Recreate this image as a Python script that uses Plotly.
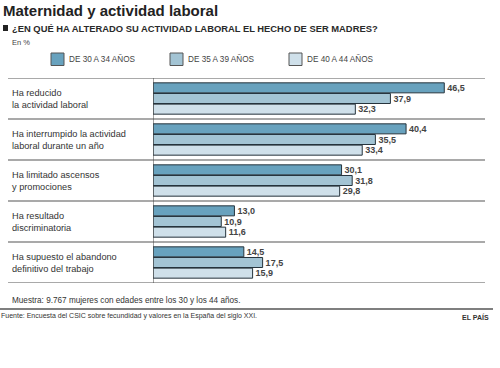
import plotly.graph_objects as go

categories = [
    "Ha reducido<br>la actividad laboral",
    "Ha interrumpido la actividad<br>laboral durante un año",
    "Ha limitado ascensos<br>y promociones",
    "Ha resultado<br>discriminatoria",
    "Ha supuesto el abandono<br>definitivo del trabajo",
]
series_names = ["DE 30 A 34 AÑOS", "DE 35 A 39 AÑOS", "DE 40 A 44 AÑOS"]
values_30_34 = [46.5, 40.4, 30.1, 13.0, 14.5]
values_35_39 = [37.9, 35.5, 31.8, 10.9, 17.5]
values_40_44 = [32.3, 33.4, 29.8, 11.6, 15.9]
series_values = [values_30_34, values_35_39, values_40_44]
colors = ["#68a2be", "#a3c4d4", "#cfe0ea"]

W, H = 500, 368
L, R, T, B = 153, 485, 78, 283
PW, PH = R - L, B - T


def px(x):
    return (x - L) / PW


def py(y):
    return (B - y) / PH


FONT = "Liberation Sans, Arial, sans-serif"
ypos = list(range(len(categories)))

fig = go.Figure()
for name, vals, col in zip(series_names, series_values, colors):
    fig.add_trace(go.Bar(
        y=ypos, x=vals, name=name, orientation="h",
        marker=dict(color=col, line=dict(color="#26343d", width=1)),
        text=vals, texttemplate="<b>%{x:.1f}</b>", textposition="outside",
        textfont=dict(family=FONT, size=9, color="#444444"),
        cliponaxis=False, showlegend=False, hoverinfo="skip",
    ))

fig.update_layout(
    width=W, height=H,
    margin=dict(l=L, r=W - R, t=T, b=H - B),
    paper_bgcolor="white", plot_bgcolor="white",
    barmode="group", bargap=0.22, bargroupgap=0.06,
    separators=",.",
    xaxis=dict(range=[0, 53], visible=False, fixedrange=True),
    yaxis=dict(range=[len(categories) - 0.5, -0.5], visible=False, fixedrange=True),
    showlegend=False,
)

shapes = []
# horizontal rules
for i in range(len(categories) + 1):
    shapes.append(dict(type="line", xref="paper", yref="y", x0=px(8), x1=1,
                       y0=i - 0.5, y1=i - 0.5, line=dict(color="#555555", width=1.2)))
# vertical axis line
shapes.append(dict(type="line", xref="x", yref="paper", x0=0, x1=0, y0=0, y1=1,
                   line=dict(color="#444444", width=1)))
# footer rule
shapes.append(dict(type="line", xref="paper", yref="paper", x0=px(0), x1=px(493),
                   y0=py(309), y1=py(309), line=dict(color="#555555", width=1.5)))
# subtitle bullet
shapes.append(dict(type="rect", xref="paper", yref="paper", x0=px(3), x1=px(8),
                   y0=py(31), y1=py(25), fillcolor="#222222", line=dict(width=0)))
# legend squares
leg_x = [51, 170, 289]
for lx, col in zip(leg_x, colors):
    shapes.append(dict(type="rect", xref="paper", yref="paper", x0=px(lx), x1=px(lx + 13),
                       y0=py(65.5), y1=py(53), fillcolor=col,
                       line=dict(color="#555555", width=1)))

ann = []
for i, c in enumerate(categories):
    ann.append(dict(xref="paper", yref="y", x=px(10), y=i, text=c, showarrow=False,
                    xanchor="left", yanchor="middle", align="left",
                    font=dict(family=FONT, size=9.2, color="#333333")))
for lx, name in zip(leg_x, series_names):
    ann.append(dict(xref="paper", yref="paper", x=px(lx + 16), y=py(59.5), text=name,
                    showarrow=False, xanchor="left", yanchor="middle",
                    font=dict(family=FONT, size=8.2, color="#444444")))

ann += [
    dict(xref="paper", yref="paper", x=px(1), y=py(10.5), text="<b>Maternidad y actividad laboral</b>",
         showarrow=False, xanchor="left", yanchor="middle",
         font=dict(family=FONT, size=15, color="#222222")),
    dict(xref="paper", yref="paper", x=px(10), y=py(28),
         text="<b>¿EN QUÉ HA ALTERADO SU ACTIVIDAD LABORAL EL HECHO DE SER MADRES?</b>",
         showarrow=False, xanchor="left", yanchor="middle",
         font=dict(family=FONT, size=9.4, color="#2a2a2a")),
    dict(xref="paper", yref="paper", x=px(10), y=py(42), text="En %",
         showarrow=False, xanchor="left", yanchor="middle",
         font=dict(family=FONT, size=7.5, color="#444444")),
    dict(xref="paper", yref="paper", x=px(10), y=py(300),
         text="Muestra: 9.767 mujeres con edades entre los 30 y los 44 años.",
         showarrow=False, xanchor="left", yanchor="middle",
         font=dict(family=FONT, size=8.2, color="#333333")),
    dict(xref="paper", yref="paper", x=px(-1), y=py(316),
         text="Fuente: Encuesta del CSIC sobre fecundidad y valores en la España del siglo XXI.",
         showarrow=False, xanchor="left", yanchor="middle",
         font=dict(family=FONT, size=7, color="#333333")),
    dict(xref="paper", yref="paper", x=px(491), y=py(317), text="<b>EL PAÍS</b>",
         showarrow=False, xanchor="right", yanchor="middle",
         font=dict(family=FONT, size=7, color="#333333")),
]

fig.update_layout(shapes=shapes, annotations=ann)
fig.write_html("out.html", config={"displayModeBar": False, "staticPlot": True},
               post_script="document.body.style.margin='0';")
